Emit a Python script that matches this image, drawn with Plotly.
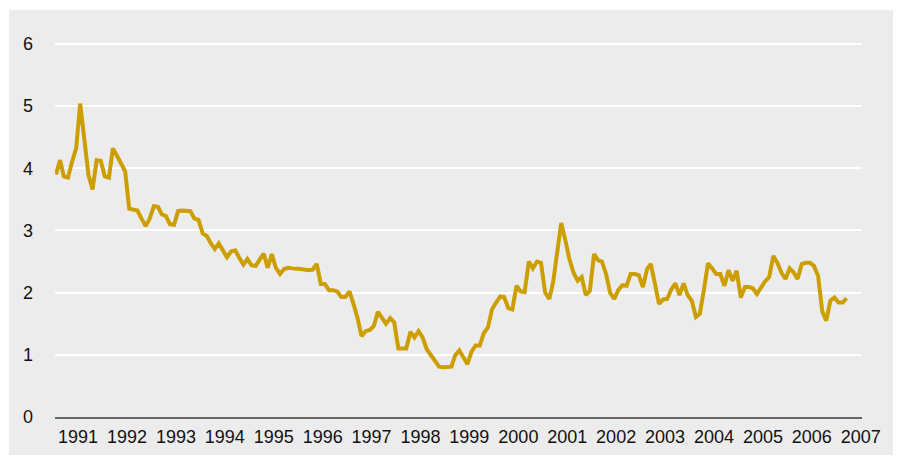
import pandas as pd
import plotly.graph_objects as go

# monthly values, Jan 1991 onwards
values = [
    3.90, 4.13, 3.87, 3.85, 4.10, 4.32, 5.04, 4.50, 3.89, 3.66,
    4.13, 4.12, 3.87, 3.85, 4.32, 4.20, 4.07, 3.95, 3.35, 3.33,
    3.32, 3.19, 3.07, 3.19, 3.39, 3.38, 3.26, 3.23, 3.10, 3.09,
    3.31, 3.32, 3.31, 3.31, 3.19, 3.17, 2.95, 2.91, 2.80, 2.70,
    2.79, 2.68, 2.57, 2.66, 2.68, 2.56, 2.45, 2.54, 2.44, 2.43,
    2.52, 2.63, 2.40, 2.62, 2.40, 2.30, 2.38, 2.40, 2.39, 2.39,
    2.38, 2.37, 2.36, 2.37, 2.46, 2.14, 2.14, 2.04, 2.04, 2.02,
    1.93, 1.93, 2.02, 1.81, 1.60, 1.30, 1.38, 1.40, 1.46, 1.69,
    1.59, 1.50, 1.59, 1.52, 1.10, 1.10, 1.10, 1.37, 1.28, 1.38,
    1.28, 1.09, 1.00, 0.90, 0.81, 0.80, 0.80, 0.81, 0.99, 1.07,
    0.96, 0.85, 1.05, 1.15, 1.15, 1.35, 1.44, 1.73, 1.84, 1.94,
    1.93, 1.75, 1.73, 2.11, 2.02, 2.01, 2.50, 2.39, 2.50, 2.48,
    2.00, 1.90, 2.16, 2.65, 3.12, 2.84, 2.54, 2.32, 2.19, 2.25,
    1.96, 2.03, 2.62, 2.52, 2.50, 2.30, 2.00, 1.90, 2.04, 2.12,
    2.11, 2.30, 2.30, 2.28, 2.09, 2.38, 2.46, 2.14, 1.82, 1.89,
    1.90, 2.05, 2.15, 1.96, 2.15, 1.96, 1.87, 1.61, 1.66, 2.05,
    2.47, 2.39, 2.30, 2.30, 2.11, 2.36, 2.19, 2.35, 1.92, 2.09,
    2.09, 2.07, 1.98, 2.08, 2.18, 2.25, 2.59, 2.48, 2.32, 2.22,
    2.39, 2.32, 2.22, 2.46, 2.48, 2.48, 2.43, 2.27, 1.70, 1.55,
    1.87, 1.92, 1.84, 1.84, 1.91,
]
dates = pd.date_range("1991-01-01", periods=len(values), freq="MS")

years = list(range(1991, 2008))
tick_dates = [f"{y}-06-15" for y in years]
tick_labels = [str(y) for y in years]

bg = "#ececec"
gold = "#cc9e00"
font = "Liberation Sans, Arial, Helvetica, sans-serif"

fig = go.Figure()
fig.add_trace(
    go.Scatter(
        x=dates,
        y=values,
        mode="lines",
        line=dict(color=gold, width=4),
        hoverinfo="skip",
    )
)

# grey panel with a thin white margin round it
# (page body adds 8px, so margins below are 8px smaller than the target)
fig.add_shape(
    type="rect",
    xref="paper", yref="paper",
    x0=-46 / 807, x1=(893 - 55) / 807,
    y0=-(455 - 417) / 398, y1=(417 - 10) / 398,
    fillcolor=bg, line_width=0, layer="below",
)

fig.update_layout(
    width=901,
    height=457,
    margin=dict(l=47, r=47, t=11, b=48),
    paper_bgcolor="white",
    plot_bgcolor=bg,
    showlegend=False,
    font=dict(family=font, size=18, color="#111111"),
    xaxis=dict(
        range=["1990-12-25", "2007-06-25"],
        tickvals=tick_dates,
        ticktext=tick_labels,
        showgrid=False,
        zeroline=False,
        showline=True,
        linecolor="#666666",
        linewidth=1.5,
        ticks="",
        ticklabelstandoff=3,
    ),
    yaxis=dict(
        range=[0, 6.4],
        tickvals=[0, 1, 2, 3, 4, 5, 6],
        showgrid=True,
        gridcolor="white",
        gridwidth=1.5,
        zeroline=False,
        showline=False,
        ticks="",
        ticklabelstandoff=21,
    ),
)

fig.write_html("out.html")
